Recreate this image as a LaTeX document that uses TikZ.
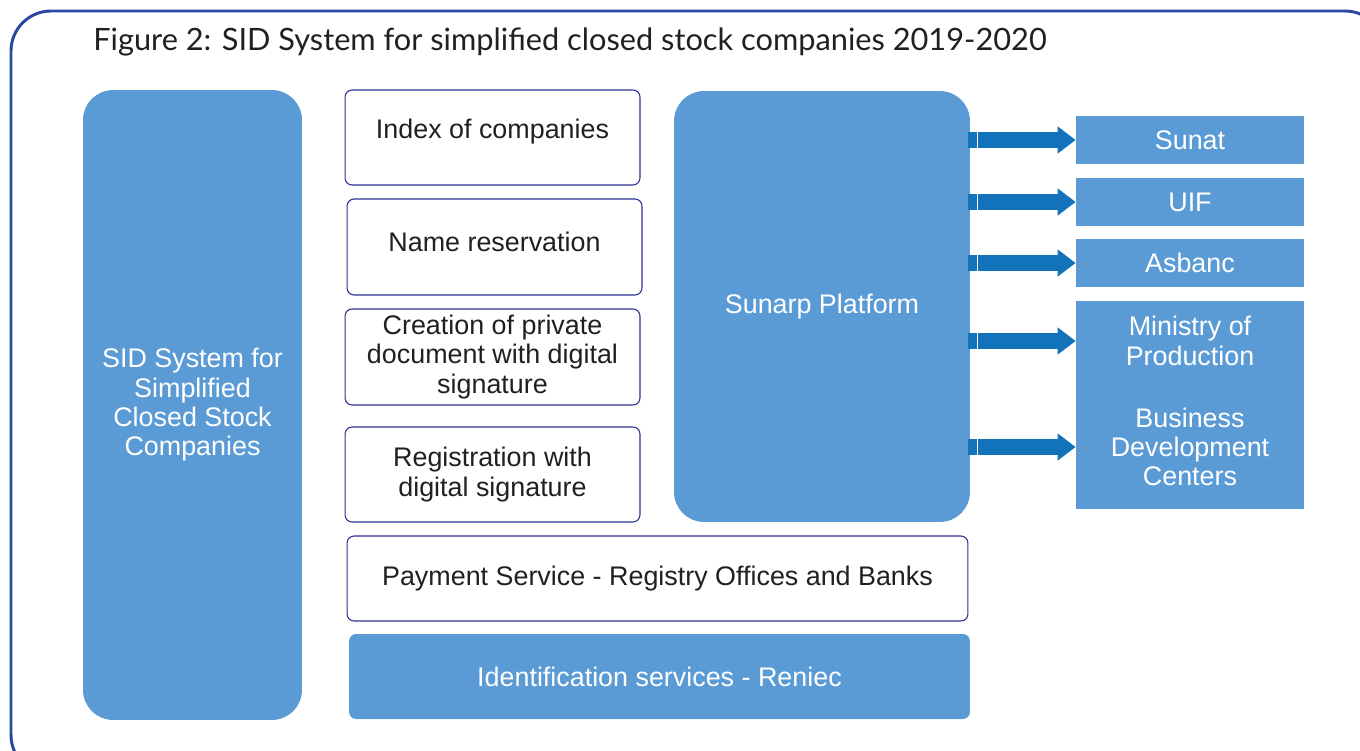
\documentclass[tikz,border=0pt]{standalone}
\usepackage{fontspec}
\setmainfont{Liberation Sans}
\newfontfamily\titlefont{Lato}
\usetikzlibrary{positioning, arrows.meta}

\definecolor{boxblue}{HTML}{5B9BD5}
\definecolor{arrowblue}{HTML}{1272BA}
\definecolor{frameblue}{HTML}{2B48A0}
\definecolor{edgeblue}{HTML}{2E3192}
\definecolor{inkblack}{HTML}{231F20}

\begin{document}
\begin{tikzpicture}[
    x=0.02cm, y=-0.02cm,
    font=\fontsize{15.3}{16.7}\selectfont,
    bluebox/.style={fill=boxblue, text=white, align=center, inner sep=0pt},
    whitebox/.style={draw=edgeblue, line width=0.6pt, rounded corners=4pt, align=center, inner sep=0pt, text=inkblack, minimum width=5.9cm, minimum height=1.92cm},
    sidebox/.style={draw=none, fill=none, inner sep=0pt, align=center, text=white},
    flow/.style={-{Triangle[length=0.36cm, width=0.52cm]}, line width=0.33cm, arrowblue},
]
\useasboundingbox (0,0) rectangle (1360,751);

% Frame and title
\draw[frameblue, line width=1.7pt, rounded corners=0.8cm] (11,11) rectangle (1385,775);
\node[anchor=base west, inner sep=0pt, font=\titlefont\fontsize{17.5}{20}\selectfont, text=inkblack] (title) at (93,50) {Figure 2: SID System for simplified closed stock companies 2019-2020};

% SID System
\node[bluebox, rounded corners=0.6cm, minimum width=4.38cm, minimum height=12.6cm] (sid) at (192.5,405) {SID System for\\Simplified\\Closed Stock\\Companies};

% Procedures
\node[whitebox, minimum height=1.9cm, text depth=0.35cm] (index) at (492.5,137.5) {Index of companies};
\node[whitebox, text depth=0.2cm] (name) at (494.5,247) {Name reservation};
\node[whitebox] (creation) at (492.5,357) {Creation of private\\document with digital\\signature};
\node[whitebox, minimum height=1.9cm] (registration) at (492.5,474.5) {Registration with\\digital signature};
\node[whitebox, minimum width=12.42cm, minimum height=1.7cm] (payment) at (657.5,578.5) {Payment Service - Registry Offices and Banks};
\node[bluebox, rounded corners=4pt, minimum width=12.42cm, minimum height=1.7cm] (reniec) at (659.5,676.5) {Identification services - Reniec};

% Sunarp Platform
\node[bluebox, rounded corners=0.6cm, minimum width=5.92cm, minimum height=8.62cm] (sunarp) at (822,306.5) {Sunarp Platform};

% Entities
\node[bluebox, minimum width=4.56cm, minimum height=0.96cm] (sunat) at (1190,140) {Sunat};
\node[bluebox, minimum width=4.56cm, minimum height=0.96cm] (uif) at (1190,202) {UIF};
\node[bluebox, minimum width=4.56cm, minimum height=0.96cm] (asbanc) at (1190,263) {Asbanc};
\node[bluebox, minimum width=4.56cm, minimum height=4.16cm] (ministry) at (1190,405) {};
\node[sidebox] (prod) at (1190,341) {Ministry of\\Production};
\node[sidebox] (bdc) at (1190,447) {Business\\Development\\Centers};

% Connections
\foreach \a in {sunat, uif, asbanc, prod, bdc} {
  \draw[flow] ([xshift=-0.04cm]sunarp.east |- \a) -- (ministry.west |- \a);
  \draw[white, line width=0.8pt] ([xshift=0.14cm]sunarp.east |- \a) ++(0,-8.5) -- ++(0,17);
}

\end{tikzpicture}
\end{document}
